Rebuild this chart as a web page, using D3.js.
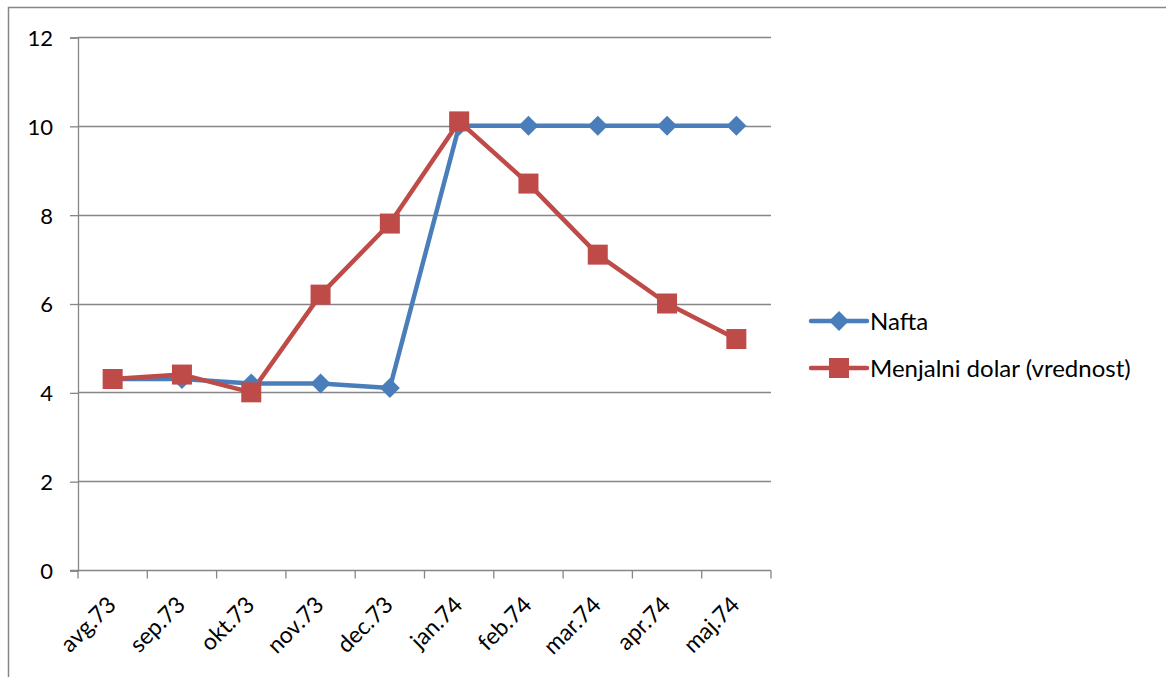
<!DOCTYPE html>
<html>
<head>
<meta charset="utf-8">
<script src="https://cdn.jsdelivr.net/npm/d3@7"></script>
<style>
  body { margin: 0; background: #fff; }
  svg { display: block; }
  text { font-family: Lato, "Open Sans", sans-serif; fill: #000; }
</style>
</head>
<body>
<div id="chart"></div>
<script>
"use strict";

// Data
const months = ["avg.73", "sep.73", "okt.73", "nov.73", "dec.73", "jan.74", "feb.74", "mar.74", "apr.74", "maj.74"];
const nafta = [4.3, 4.3, 4.2, 4.2, 4.1, 10, 10, 10, 10, 10];
const dolar = [4.3, 4.4, 4.0, 6.2, 7.8, 10.1, 8.7, 7.1, 6.0, 5.2];
const yTicks = [0, 2, 4, 6, 8, 10, 12];
const seriesNames = ["Nafta", "Menjalni dolar (vrednost)"];

let width = 1166, height = 677;
let margin = { top: 37, left: 78, bottom: 107, right: 395 };

let svg = d3.select("#chart").append("svg")
    .attr("width", width)
    .attr("height", height);

// Chart border (only top and left edges are in frame)
svg.append("path")
    .attr("d", "M8.5," + height + "V7.5H" + width)
    .style("fill", "none")
    .style("stroke", "#868686")
    .style("stroke-width", 1.5);

let x = d3.scaleBand()
    .domain(months)
    .range([margin.left, width - margin.right]);

let y = d3.scaleLinear()
    .domain([0, 12])
    .range([height - margin.bottom, margin.top]);

// Gridlines
svg.append("g").selectAll("line")
    .data(yTicks.slice(1))
    .enter().append("line")
    .attr("x1", margin.left)
    .attr("x2", width - margin.right)
    .attr("y1", d => Math.round(y(d)) + 0.5)
    .attr("y2", d => Math.round(y(d)) + 0.5)
    .style("stroke", "#868686")
    .style("stroke-width", 1.3);

// Y axis
let yAxis = svg.append("g")
    .attr("transform", "translate(" + margin.left + ",0.5)")
    .call(d3.axisLeft(y).tickValues(yTicks).tickSize(8).tickPadding(17));
yAxis.selectAll("path, line").style("stroke", "#868686").style("stroke-width", 1.3);
yAxis.selectAll("text").style("font-size", "22px").attr("dy", "0.36em");

// X axis with ticks at category boundaries
let xAxisG = svg.append("g")
    .attr("transform", "translate(0," + (Math.round(y(0)) + 0.5) + ")");
xAxisG.append("line")
    .attr("x1", margin.left - 8)
    .attr("x2", width - margin.right)
    .style("stroke", "#868686")
    .style("stroke-width", 1.3);
let bounds = months.map(m => x(m)).concat([x.range()[1]]);
xAxisG.selectAll(".tick").data(bounds)
    .enter().append("line")
    .attr("class", "tick")
    .attr("x1", d => d).attr("x2", d => d)
    .attr("y1", 0).attr("y2", 8)
    .style("stroke", "#868686")
    .style("stroke-width", 1.3);
xAxisG.selectAll("text").data(months)
    .enter().append("text")
    .attr("transform", d => "translate(" + (x(d) + x.bandwidth() / 2 - 1) + ",30) rotate(-45)")
    .attr("text-anchor", "end")
    .attr("dy", "0.35em")
    .style("font-size", "23px")
    .text(d => d);

let cx = d => x(d) + x.bandwidth() / 2;

let line = d3.line()
    .x((d, i) => cx(months[i]))
    .y(d => y(d));

let blue = "#4a7ebb", red = "#be4b48";

// Series lines
svg.append("path").datum(nafta)
    .attr("d", line)
    .style("fill", "none").style("stroke", blue).style("stroke-width", 4.5)
    .style("stroke-linejoin", "round");
svg.append("path").datum(dolar)
    .attr("d", line)
    .style("fill", "none").style("stroke", red).style("stroke-width", 4.5)
    .style("stroke-linejoin", "round");

let diamond = "M0,-10L10,0L0,10L-10,0Z";

// Markers
svg.append("g").selectAll("path")
    .data(nafta)
    .enter().append("path")
    .attr("d", diamond)
    .attr("transform", (d, i) => "translate(" + cx(months[i]) + "," + y(d) + ")")
    .style("fill", blue);
svg.append("g").selectAll("rect")
    .data(dolar)
    .enter().append("rect")
    .attr("x", (d, i) => cx(months[i]) - 10)
    .attr("y", d => y(d) - 10)
    .attr("width", 20).attr("height", 20)
    .style("fill", red);

// Legend
let legend = svg.append("g").attr("transform", "translate(811,0)");
let legendY = [321, 368];
let colors = [blue, red];
seriesNames.forEach((name, i) => {
    let g = legend.append("g").attr("transform", "translate(0," + legendY[i] + ")");
    g.append("line")
        .attr("x1", 0).attr("x2", 56)
        .style("stroke", colors[i]).style("stroke-width", 4.5)
        .style("stroke-linecap", "round");
    if (i === 0) {
        g.append("path").attr("d", diamond).attr("transform", "translate(28,0)").style("fill", blue);
    } else {
        g.append("rect").attr("x", 18).attr("y", -10).attr("width", 20).attr("height", 20).style("fill", red);
    }
    g.append("text")
        .attr("x", 59)
        .attr("dy", "0.36em")
        .style("font-size", "24px")
        .text(name);
});
</script>
</body>
</html>
